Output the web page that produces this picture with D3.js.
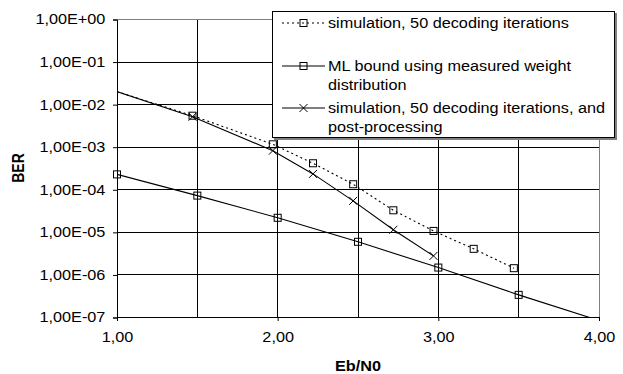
<!DOCTYPE html>
<html>
<head>
<meta charset="utf-8">
<script src="https://cdn.jsdelivr.net/npm/d3@7"></script>
<style>
  body { margin: 0; background: #fff; }
  text { font-family: "Liberation Sans", Arial, sans-serif; }
</style>
</head>
<body>
<div id="chart"></div>
<script>
  // simulation, 50 decoding iterations
  const ebn0Sim = [0.97, 1.47, 1.97, 2.22, 2.47, 2.72, 2.97, 3.22, 3.47];
  const berSim = [2.2e-2, 5.5e-3, 1.17e-3, 4.2e-4, 1.35e-4, 3.3e-5, 1.08e-5, 4.1e-6, 1.44e-6];

  // ML bound using measured weight distribution
  const ebn0Ml = [1.0, 1.5, 2.0, 2.5, 3.0, 3.5, 4.0];
  const berMl = [2.3e-4, 7.3e-5, 2.2e-5, 6.0e-6, 1.49e-6, 3.4e-7, 8.5e-8];

  // simulation, 50 decoding iterations, and post-processing
  const ebn0Post = [0.97, 1.47, 1.97, 2.22, 2.47, 2.72, 2.97];
  const berPost = [2.2e-2, 5.2e-3, 8.3e-4, 2.36e-4, 5.5e-5, 1.15e-5, 2.8e-6];

  const xTicks = [1, 2, 3, 4];
  const xGrid = [1.5, 2, 2.5, 3, 3.5];
  const yTicks = [1, 1e-1, 1e-2, 1e-3, 1e-4, 1e-5, 1e-6, 1e-7];

  const legendLabels = [
    ["simulation, 50 decoding iterations"],
    ["ML bound using measured weight", "distribution"],
    ["simulation, 50 decoding iterations, and", "post-processing"]
  ];

  const width = 623, height = 374;
  const stretch = 1.16; // text in the picture is a bit wide

  const svg = d3.select("#chart")
    .append("svg")
    .attr("width", width)
    .attr("height", height);

  const x = d3.scaleLinear().domain([1, 4]).range([117, 599]);
  const y = d3.scaleLog().domain([1e-7, 1]).range([317.5, 19.5]);
  const crisp = v => Math.floor(v) + 0.5;

  svg.append("defs").append("clipPath")
    .attr("id", "plotClip")
    .append("rect")
    .attr("x", x(1)).attr("y", y(1))
    .attr("width", x(4) - x(1)).attr("height", y(1e-7) - y(1));

  // gridlines
  svg.append("g").selectAll("line")
    .data(xGrid).enter().append("line")
    .attr("x1", d => crisp(x(d))).attr("x2", d => crisp(x(d)))
    .attr("y1", y(1)).attr("y2", y(1e-7))
    .attr("stroke", "#000");

  svg.append("g").selectAll("line")
    .data(yTicks.slice(1, -1)).enter().append("line")
    .attr("x1", x(1)).attr("x2", x(4))
    .attr("y1", d => crisp(y(d))).attr("y2", d => crisp(y(d)))
    .attr("stroke", "#000");

  // plot area border (top, right)
  svg.append("path")
    .attr("d", `M${x(1)},${crisp(y(1))}H${crisp(x(4))}V${y(1e-7)}`)
    .attr("fill", "none")
    .attr("stroke", "#808080");

  // axes
  const fmtY = d => {
    const e = Math.round(Math.log10(d));
    return "1,00E" + (e < 0 ? "-" : "+") + String(Math.abs(e)).padStart(2, "0");
  };

  const yAxis = svg.append("g")
    .attr("transform", `translate(${x(1)},0)`)
    .call(d3.axisLeft(y).tickValues(yTicks).tickFormat(fmtY).tickSize(4).tickPadding(6));

  const xAxis = svg.append("g")
    .attr("transform", `translate(0,${Math.floor(y(1e-7))})`)
    .call(d3.axisBottom(x).tickValues(xTicks).tickFormat(d => d.toFixed(2).replace(".", ",")).tickSize(4).tickPadding(11));

  [yAxis, xAxis].forEach(a => {
    a.select(".domain").attr("stroke", "#000");
    a.selectAll(".tick line").attr("stroke", "#000");
    a.selectAll("text")
      .style("font-family", '"Liberation Sans", Arial, sans-serif')
      .style("font-size", "14px")
      .attr("fill", "#000")
      .attr("transform", `scale(${stretch},1)`);
  });

  // axis titles
  svg.append("text")
    .attr("transform", `translate(24,168) rotate(-90) scale(1,${stretch})`)
    .attr("text-anchor", "middle")
    .style("font-size", "14px")
    .style("font-weight", "bold")
    .text("BER");

  svg.append("text")
    .attr("transform", `translate(358,371) scale(${stretch},1)`)
    .attr("text-anchor", "middle")
    .style("font-size", "14px")
    .style("font-weight", "bold")
    .text("Eb/N0");

  // series
  const series = [
    { xs: ebn0Sim, ys: berSim, dash: "2,3", marker: "square" },
    { xs: ebn0Ml, ys: berMl, dash: null, marker: "square" },
    { xs: ebn0Post, ys: berPost, dash: null, marker: "cross" }
  ];

  const line = d3.line().x(d => x(d[0])).y(d => y(d[1]));

  function drawMarker(g, type, cx, cy) {
    if (type === "square") {
      g.append("rect")
        .attr("x", cx - 3.5).attr("y", cy - 3.5)
        .attr("width", 7).attr("height", 7)
        .attr("fill", "none").attr("stroke", "#000");
    } else {
      g.append("path")
        .attr("d", `M${cx - 4},${cy - 4}L${cx + 4},${cy + 4}M${cx - 4},${cy + 4}L${cx + 4},${cy - 4}`)
        .attr("stroke", "#000");
    }
  }

  const plot = svg.append("g");
  series.forEach(s => {
    const pts = s.xs.map((v, i) => [v, s.ys[i]]);
    plot.append("path")
      .datum(pts)
      .attr("d", line)
      .attr("clip-path", "url(#plotClip)")
      .attr("fill", "none")
      .attr("stroke", "#000")
      .attr("stroke-width", 1.1)
      .attr("stroke-dasharray", s.dash);
    pts.filter(p => p[0] >= 1 && p[0] <= 4 && p[1] >= 1e-7 && p[1] <= 1)
      .forEach(p => drawMarker(plot, s.marker, x(p[0]), y(p[1])));
  });

  // legend
  const legend = svg.append("g");
  legend.append("rect")
    .attr("x", 274).attr("y", 13).attr("width", 343).attr("height", 127)
    .attr("fill", "#808080");
  legend.append("rect")
    .attr("x", 272.5).attr("y", 11.5).attr("width", 342).attr("height", 126)
    .attr("fill", "#fff").attr("stroke", "#000");

  const legendY = [23, 66, 108];
  series.forEach((s, i) => {
    const ly = legendY[i];
    legend.append("line")
      .attr("x1", 282).attr("x2", 325)
      .attr("y1", ly).attr("y2", ly)
      .attr("stroke", "#000")
      .attr("stroke-width", 1.1)
      .attr("stroke-dasharray", s.dash);
    drawMarker(legend, s.marker, 303.5, ly);
    legendLabels[i].forEach((t, j) => {
      legend.append("text")
        .attr("transform", `translate(328,${ly + 5 + j * 19}) scale(${stretch},1)`)
        .style("font-size", "14px")
        .attr("fill", "#000")
        .text(t);
    });
  });
</script>
</body>
</html>
